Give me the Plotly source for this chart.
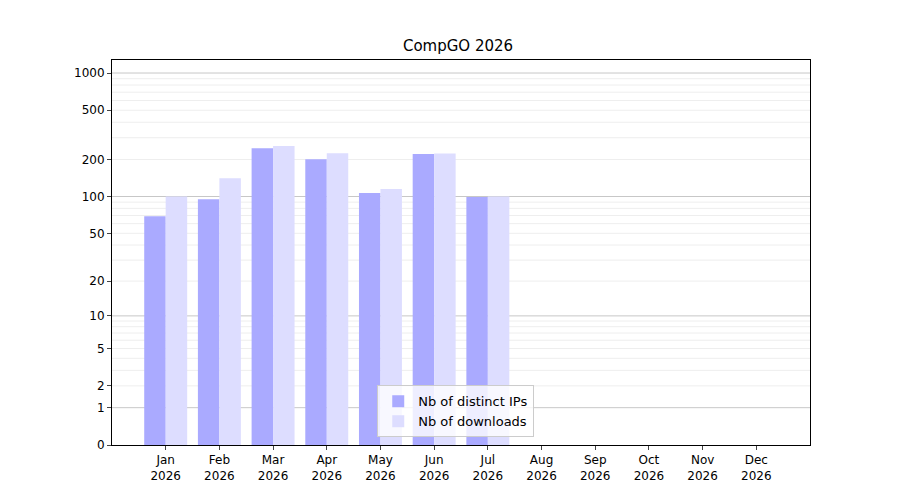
import numpy as np
import plotly.graph_objects as go

months = ["Jan","Feb","Mar","Apr","May","Jun","Jul","Aug","Sep","Oct","Nov","Dec"]
year = "2026"
ips = [69, 95, 247, 201, 107, 221, 99]
downloads = [100, 141, 257, 225, 115, 224, 100]
ytick_vals = [0, 1, 2, 5, 10, 20, 50, 100, 200, 500, 1000]

def tf(v):
    return np.log10(1 + np.asarray(v, dtype=float))

x = np.arange(len(months))
fig = go.Figure()
fig.add_bar(x=x[:len(ips)] - 0.2, y=tf(ips), width=0.4, name="Nb of distinct IPs",
            marker=dict(color="#aaaaff", line_width=0), customdata=ips,
            hovertemplate="%{customdata}<extra></extra>")
fig.add_bar(x=x[:len(downloads)] + 0.2, y=tf(downloads), width=0.4, name="Nb of downloads",
            marker=dict(color="#ddddff", line_width=0), customdata=downloads,
            hovertemplate="%{customdata}<extra></extra>")

shapes = []
minor = [3,4,6,7,8,9,30,40,60,70,80,90,300,400,600,700,800,900]
for v in minor + [2,5,20,50,200,500]:
    shapes.append(dict(type="line", xref="paper", x0=0, x1=1, yref="y", y0=tf(v), y1=tf(v),
                       line=dict(color="rgba(0,0,0,0.07)", width=1), layer="below"))
for v in [1,10,100,1000]:
    shapes.append(dict(type="line", xref="paper", x0=0, x1=1, yref="y", y0=tf(v), y1=tf(v),
                       line=dict(color="rgba(0,0,0,0.22)", width=1), layer="below"))

fig.update_layout(
    width=900, height=500, margin=dict(l=104, r=98, t=52, b=63),
    paper_bgcolor="white", plot_bgcolor="white",
    font=dict(family="DejaVu Sans", size=12, color="black"),
    title=dict(text="CompGO 2026", x=0.5, xanchor="center", y=0.915, yanchor="bottom",
               font=dict(size=15)),
    barmode="overlay", shapes=shapes,
    legend=dict(x=0.38, y=0.02, xanchor="left", yanchor="bottom",
                bordercolor="#cccccc", borderwidth=1, bgcolor="rgba(255,255,255,0.8)",
                font=dict(size=13)),
    xaxis=dict(range=[-1, 12], tickvals=list(x), ticktext=[f"{m}<br>{year}" for m in months],
               showgrid=False, showline=True, linecolor="black", mirror=True,
               ticks="outside", ticklen=4, zeroline=False),
    yaxis=dict(range=[0, tf(1000) + 0.105], tickvals=list(tf(ytick_vals)),
               ticktext=[str(v) for v in ytick_vals], showgrid=False, showline=True,
               linecolor="black", mirror=True, ticks="outside", ticklen=4, zeroline=False),
)
fig.write_html("out.html")
